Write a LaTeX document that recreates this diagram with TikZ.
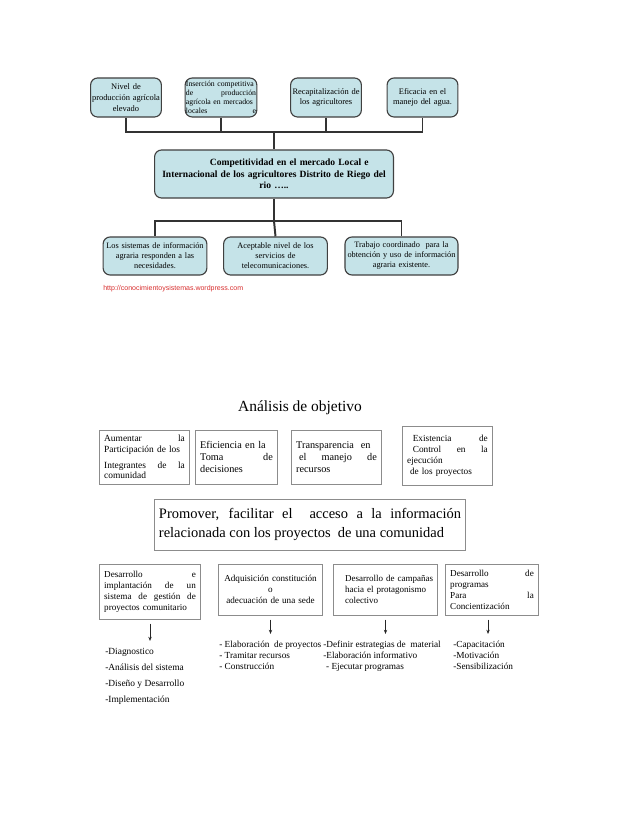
\documentclass[tikz,border=0pt]{standalone}
\usepackage{fontspec}
\setmainfont{Liberation Serif}
\setsansfont{Liberation Sans}
\usetikzlibrary{arrows.meta,positioning}
\definecolor{boxfill}{RGB}{197,227,232}
\definecolor{urlred}{RGB}{215,45,45}

\begin{document}
\begin{tikzpicture}[
  x=0.025cm, y=-0.025cm,
  obj/.style={rectangle, rounded corners=5pt, draw=black!75, line width=0.8pt,
              fill=boxfill, minimum height=0.975cm, text width=1.7cm,
              align=center, inner sep=1pt, font=\fontsize{6}{7.6}\selectfont},
  core/.style={obj, minimum height=1.2cm, text width=5.9cm,
               font=\fontsize{6.8}{8.2}\selectfont\bfseries},
  res/.style={obj, minimum height=0.95cm, inner sep=0.5pt,
              font=\fontsize{5.9}{7.1}\selectfont},
  link/.style={line width=1.4pt, black!80},
  objbox/.style={rectangle, draw=black!45, line width=0.7pt, inner sep=3pt,
                 align=left, font=\fontsize{6.7}{7.4}\selectfont},
  arr/.style={-{Stealth[length=3pt,width=2.4pt]}, line width=0.5pt, black!85,
              shorten <=3pt, shorten >=5pt},
  lst/.style={anchor=north west, inner sep=0pt, align=left,
              font=\fontsize{6.6}{7.8}\selectfont},
]

\useasboundingbox (0,0) rectangle (638,826);

% upper tree
\node[obj] (t1) at (126,97.5) {Nivel de\\ producción agrícola\\ elevado};
\node[obj, text width=1.75cm, inner sep=0.6pt, align=left,
      font=\fontsize{5.5}{6.4}\selectfont] (t2) at (221,97.5)
      {Inserción competitiva\\ de \hfill producción\\ agrícola en mercados\\ locales \hfill e};
\node[obj] (t3) at (326,97.5) {Recapitalización de\\ los agricultores\\[6pt]};
\node[obj] (t4) at (422.5,97.5) {Eficacia en el\\ manejo del agua.\\[6pt]};

\node[core] (comp) at (274,174)
  {\hspace*{3.2em}Competitividad en el mercado Local e\\
   Internacional de los agricultores Distrito de Riego del\\ rio …..};

\node[res, text width=2.56cm] (b1) at (155,256)
  {Los sistemas de información\\ agraria responden a las\\ necesidades.};
\node[res, text width=2.56cm] (b2) at (275.5,256)
  {Aceptable nivel de los\\ servicios de\\ telecomunicaciones.};
\node[res, text width=2.79cm] (b3) at (401.5,256)
  {Trabajo coordinado \ para la\\ obtención y uso de información\\ agraria existente.};

\coordinate (jTop) at (274,132);
\coordinate (jBot) at (274,221);
\draw[link] (t1.south) |- (jTop);
\draw[link] (t2.south) |- (jTop);
\draw[link] (t3.south) |- (jTop);
\draw[link] (t4.south) |- (jTop);
\draw[link] (jTop) -- (comp.north);
\draw[link] (comp.south) -- (jBot);
\draw[link] (jBot) -| (b1.north);
\draw[link] (jBot) -- (b2.north);
\draw[link] (jBot) -| (b3.north);

\node[anchor=west, inner sep=0pt, text=urlred,
      font=\sffamily\fontsize{5}{6}\selectfont] (url) at (103,289)
  {http://conocimientoysistemas.wordpress.com};

% objective analysis
\node[font=\fontsize{11}{13}\selectfont] (title) at (300,408) {Análisis de objetivo};

\node[objbox, minimum height=1.35cm, text width=2.015cm] (a1) at (144.5,457)
  {Aumentar \hfill la\\ Participación de los\\[4pt] Integrantes \hfill de \hfill la\\ comunidad};
\node[objbox, minimum height=1.35cm, text width=1.815cm,
      font=\fontsize{7.3}{8.5}\selectfont] (a2) at (236.5,457)
  {Eficiencia en la\\ Toma \hfill de\\ decisiones\\[4pt]};
\node[objbox, minimum height=1.35cm, text width=2.015cm,
      font=\fontsize{7.3}{8.5}\selectfont] (a3) at (336.5,457)
  {Transparencia \ en\\ \hspace*{2pt}el \hfill manejo \hfill de\\ recursos\\[4pt]};
\node[objbox, minimum height=1.475cm, text width=2.015cm,
      font=\fontsize{6.6}{7.8}\selectfont] (a4) at (447.5,455.5)
  {\hspace*{4pt}Existencia \hfill de\\ \hspace*{4pt}Control \hfill en \hfill la\\ ejecución\\ \hspace*{2pt}de los proyectos};

\node[objbox, minimum height=1.275cm, text width=7.55cm, align=justify,
      font=\fontsize{10.3}{13}\selectfont] (goal) at (310,524.5)
  {Promover, facilitar el \ acceso a la información\linebreak
   relacionada con los proyectos \ de una comunidad};

\node[objbox, minimum height=1.375cm, text width=2.29cm,
      font=\fontsize{6.5}{7.8}\selectfont] (c1) at (150,591.5)
  {Desarrollo \hfill e\\ implantación \hfill de \hfill un\\ sistema \hfill de \hfill gestión \hfill de\\ proyectos comunitario};
\node[objbox, minimum height=1.275cm, text width=2.365cm, align=center,
      font=\fontsize{6.5}{7.8}\selectfont] (c2) at (270.5,589.5)
  {Adquisición constitución\\ o\\ adecuación de una sede};
\node[objbox, minimum height=1.275cm, text width=2.365cm,
      font=\fontsize{6.4}{7.8}\selectfont] (c3) at (385.5,589.5)
  {\hspace*{5pt}\mbox{Desarrollo de campañas}\\ \hspace*{5pt}hacia el protagonismo\\ \hspace*{5pt}colectivo};
\node[objbox, minimum height=1.275cm, text width=2.09cm,
      font=\fontsize{6.5}{7.8}\selectfont] (c4) at (492,589.5)
  {Desarrollo \hfill de\\ programas\\ Para \hfill la\\ Concientización};

\node[lst, font=\fontsize{6.7}{11.4}\selectfont] (l1) at (105,648)
  {-Diagnostico\\ -Análisis del sistema\\ -Diseño y Desarrollo\\ -Implementación};
\node[lst] (l2) at (219,641)
  {- Elaboración \ de proyectos\\ - Tramitar recursos\\ - Construcción};
\node[lst] (l3) at (323,641)
  {-Definir estrategias de \ material\\ -Elaboración informativo\\ \hspace*{2pt}- Ejecutar programas};
\node[lst] (l4) at (453,641)
  {-Capacitación\\ -Motivación\\ -Sensibilización};

\draw[arr] (c1.south) -- (c1.south |- l1.north);
\draw[arr] (c2.south) -- (c2.south |- l2.north);
\draw[arr] (c3.south) -- (c3.south |- l3.north);
\draw[arr] ([xshift=-0.1cm]c4.south) -- ([xshift=-0.1cm]c4.south |- l4.north);

\end{tikzpicture}
\end{document}
